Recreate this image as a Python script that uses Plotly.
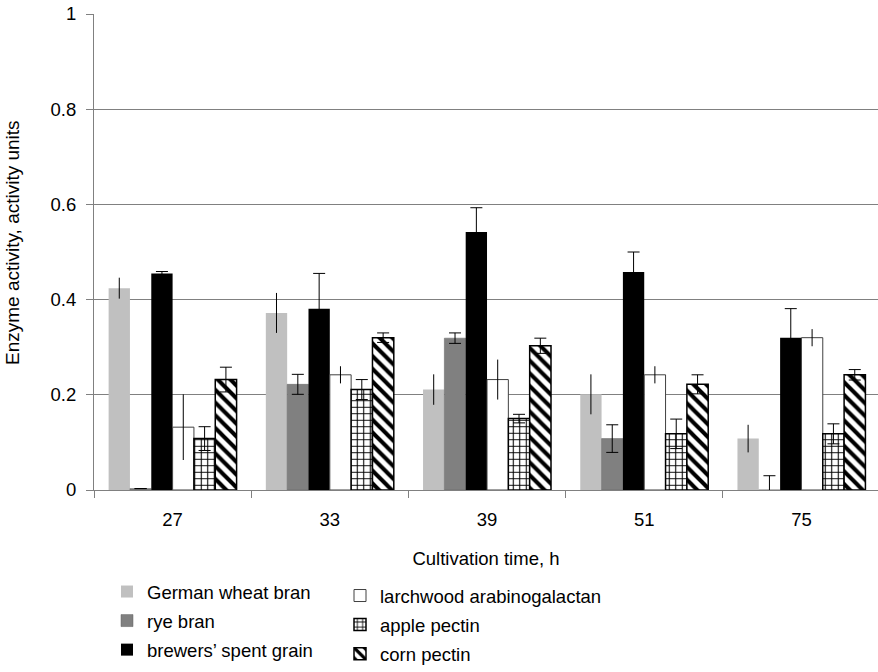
import plotly.graph_objects as go

# Cultivation time points (h)
times = ["27", "33", "39", "51", "75"]

# Enzyme activity per substrate (activity units) and their standard deviations
german_wheat_bran = [0.424, 0.372, 0.211, 0.201, 0.108]
german_wheat_bran_err = [0.022, 0.042, 0.032, 0.042, 0.029]

rye_bran = [0.003, 0.222, 0.319, 0.108, 0.0]
rye_bran_err = [0.0, 0.021, 0.011, 0.029, 0.030]

brewers_spent_grain = [0.455, 0.381, 0.542, 0.458, 0.320]
brewers_spent_grain_err = [0.004, 0.074, 0.051, 0.042, 0.061]

larchwood_arabinogalactan = [0.132, 0.242, 0.232, 0.242, 0.320]
larchwood_arabinogalactan_err = [0.069, 0.018, 0.042, 0.018, 0.018]

apple_pectin = [0.108, 0.211, 0.150, 0.118, 0.118]
apple_pectin_err = [0.025, 0.021, 0.009, 0.031, 0.021]

corn_pectin = [0.232, 0.320, 0.303, 0.222, 0.242]
corn_pectin_err = [0.026, 0.010, 0.016, 0.020, 0.011]

FONT = "Arial, Liberation Sans, sans-serif"
FS = 18.5
GRID = "#808080"


def err(values, cap):
    return dict(type="data", array=values, visible=True, color="black",
                thickness=1, width=cap)


fig = go.Figure()

fig.add_bar(name="German wheat bran", x=times, y=german_wheat_bran,
            marker=dict(color="#C0C0C0", line=dict(width=0)),
            error_y=err(german_wheat_bran_err, 0),
            legend="legend", legendgroup="g1")
fig.add_bar(name="rye bran", x=times, y=rye_bran,
            marker=dict(color="#808080", line=dict(color="#606060", width=0.5)),
            error_y=err(rye_bran_err, 6),
            legend="legend", legendgroup="g2")
fig.add_bar(name="brewers\u2019 spent grain", x=times, y=brewers_spent_grain,
            marker=dict(color="black", line=dict(width=0)),
            error_y=err(brewers_spent_grain_err, 6),
            legend="legend", legendgroup="g3")
fig.add_bar(name="larchwood arabinogalactan", x=times, y=larchwood_arabinogalactan,
            marker=dict(color="white", line=dict(color="#404040", width=1)),
            error_y=err(larchwood_arabinogalactan_err, 0),
            legend="legend2", legendgroup="g4")
fig.add_bar(name="apple pectin", x=times, y=apple_pectin,
            marker=dict(color="white", line=dict(color="black", width=1.5),
                        pattern=dict(shape="+", fillmode="replace", fgcolor="black",
                                     bgcolor="white", size=6.5, solidity=0.3)),
            error_y=err(apple_pectin_err, 6),
            legend="legend2", legendgroup="g5")
fig.add_bar(name="corn pectin", x=times, y=corn_pectin,
            marker=dict(color="white", line=dict(color="black", width=1.5),
                        pattern=dict(shape="\\", fillmode="replace", fgcolor="black",
                                     bgcolor="white", size=9, solidity=0.45)),
            error_y=err(corn_pectin_err, 6),
            legend="legend2", legendgroup="g6")

legend_common = dict(
    orientation="v", xref="container", yref="container",
    xanchor="left", yanchor="top", bgcolor="rgba(0,0,0,0)",
    font=dict(family=FONT, size=FS, color="black"),
    tracegroupgap=2, itemclick=False, itemdoubleclick=False,
)

fig.update_layout(
    width=878, height=672,
    margin=dict(l=94, r=0, t=14, b=182, autoexpand=False),
    paper_bgcolor="white", plot_bgcolor="white",
    font=dict(family=FONT, size=FS, color="black"),
    barmode="group", bargap=0.186, bargroupgap=0,
    legend=dict(x=107 / 878, y=1 - 573 / 672, **legend_common),
    legend2=dict(x=340 / 878, y=1 - 577 / 672, **legend_common),
    xaxis=dict(
        type="category", categoryorder="array", categoryarray=times,
        range=[-0.5, 4.487],
        showline=True, linecolor=GRID, linewidth=1,
        ticks="outside", tickson="boundaries", ticklen=7, tickcolor=GRID,
        showgrid=False, ticklabelstandoff=13,
        title=dict(text="Cultivation time, h", standoff=22,
                   font=dict(family=FONT, size=FS)),
    ),
    yaxis=dict(
        range=[0, 1], dtick=0.2, tick0=0,
        showline=True, linecolor=GRID, linewidth=1,
        ticks="outside", ticklen=7, tickcolor=GRID,
        showgrid=True, gridcolor=GRID, gridwidth=1, zeroline=False,
        ticklabelstandoff=6,
    ),
    annotations=[dict(
        text="Enzyme activity, activity units", textangle=-90,
        xref="paper", yref="paper", x=(13 - 94) / 784, y=(490 - 243) / 476,
        xanchor="center", yanchor="middle", showarrow=False,
        font=dict(family=FONT, size=19, color="black"),
    )],
)

fig.write_html("out.html")
